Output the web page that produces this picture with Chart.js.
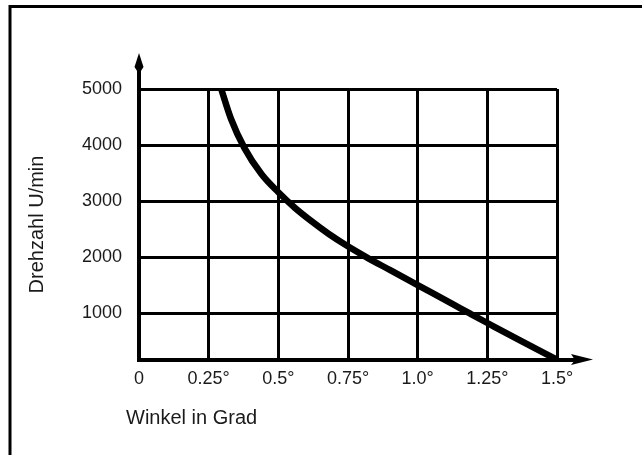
<!DOCTYPE html>
<html>
<head>
<meta charset="utf-8">
<script src="https://cdn.jsdelivr.net/npm/chart.js@4.4.1/dist/chart.umd.min.js"></script>
<style>
  html, body { margin: 0; padding: 0; background: #fff; }
  canvas { display: block; }
</style>
</head>
<body>
<canvas id="c" width="642" height="455"></canvas>
<script>
// Drehzahl über Winkel
const winkel   = [0.295, 0.33, 0.378, 0.44, 0.5, 0.56, 0.62, 0.68, 0.745, 0.817, 0.9, 1.0, 1.126, 1.187, 1.252, 1.374, 1.5];
const drehzahl = [5000, 4470, 3950, 3480, 3160, 2880, 2640, 2420, 2210, 2000, 1775, 1505, 1165, 1000, 825, 500, 175];

const xTickValues = [0, 0.25, 0.5, 0.75, 1.0, 1.25, 1.5];
const xTickLabels = ['0', '0.25°', '0.5°', '0.75°', '1.0°', '1.25°', '1.5°'];
const yTickValues = [1000, 2000, 3000, 4000, 5000];
const yTickLabels = ['1000', '2000', '3000', '4000', '5000'];

const xTitle = 'Winkel in Grad';
const yTitle = 'Drehzahl U/min';

const xMin = 0, xMax = 1.5;
const yMin = 170, yMax = 5000;

const ink = '#000';
const textInk = '#1a1a1a';
const tickFont = { family: '"Liberation Sans", Arial, sans-serif', size: 18 };
const titleFont = { family: '"Liberation Sans", Arial, sans-serif', size: 20 };

// white page with the frame along the left and top edge
const framePlugin = {
  id: 'frame',
  beforeDraw(chart) {
    const ctx = chart.ctx;
    ctx.save();
    ctx.fillStyle = '#fff';
    ctx.fillRect(0, 0, chart.width, chart.height);
    ctx.strokeStyle = ink;
    ctx.lineWidth = 3;
    ctx.strokeRect(10, 6.5, chart.width + 20, chart.height + 20);
    ctx.restore();
  }
};

// axis arrows and the horizontal axis caption
const axisPlugin = {
  id: 'axisArrows',
  afterDraw(chart) {
    const ctx = chart.ctx;
    const xs = chart.scales.x, ys = chart.scales.y;
    const x0 = xs.getPixelForValue(xMin);
    const xEnd = xs.getPixelForValue(xMax);
    const y0 = ys.getPixelForValue(yMin);
    const yTop = ys.getPixelForValue(yMax);
    ctx.save();
    ctx.fillStyle = ink;
    ctx.strokeStyle = ink;
    ctx.lineWidth = 4;
    // vertical arrow
    ctx.beginPath();
    ctx.moveTo(x0, yTop + 2);
    ctx.lineTo(x0, yTop - 30);
    ctx.stroke();
    ctx.beginPath();
    ctx.moveTo(x0, yTop - 36);
    ctx.lineTo(x0 + 4.5, yTop - 22);
    ctx.lineTo(x0, yTop - 15);
    ctx.lineTo(x0 - 4.5, yTop - 22);
    ctx.closePath();
    ctx.fill();
    // horizontal arrow
    ctx.beginPath();
    ctx.moveTo(xEnd - 2, y0);
    ctx.lineTo(xEnd + 26, y0);
    ctx.stroke();
    ctx.beginPath();
    ctx.moveTo(xEnd + 36, y0 - 0.5);
    ctx.lineTo(xEnd + 14, y0 - 6);
    ctx.lineTo(xEnd + 18, y0);
    ctx.lineTo(xEnd + 14, y0 + 5);
    ctx.closePath();
    ctx.fill();
    // caption under the horizontal axis
    ctx.fillStyle = textInk;
    ctx.font = titleFont.size + 'px ' + titleFont.family;
    ctx.textAlign = 'left';
    ctx.textBaseline = 'alphabetic';
    ctx.fillText(xTitle, 126, 424);
    ctx.restore();
  }
};

new Chart(document.getElementById('c'), {
  type: 'line',
  data: {
    datasets: [{
      data: winkel.map((w, i) => ({ x: w, y: drehzahl[i] })),
      borderColor: ink,
      borderWidth: 6.5,
      pointRadius: 0,
      cubicInterpolationMode: 'monotone',
      borderJoinStyle: 'round',
      fill: false
    }]
  },
  options: {
    responsive: false,
    animation: false,
    devicePixelRatio: 1,
    layout: { padding: { left: 0, top: 89, right: 85, bottom: 0 } },
    plugins: { legend: { display: false }, tooltip: { enabled: false } },
    scales: {
      x: {
        type: 'linear',
        min: xMin,
        max: xMax,
        afterBuildTicks(scale) { scale.ticks = xTickValues.map(v => ({ value: v })); },
        afterFit(scale) { scale.height = 95; },
        ticks: {
          color: textInk,
          font: tickFont,
          padding: 8,
          maxRotation: 0,
          autoSkip: false,
          callback: (v) => xTickLabels[xTickValues.indexOf(v)]
        },
        grid: { color: ink, lineWidth: 3, drawTicks: false },
        border: { color: ink, width: 4 }
      },
      y: {
        type: 'linear',
        min: yMin,
        max: yMax,
        afterBuildTicks(scale) { scale.ticks = yTickValues.map(v => ({ value: v })); },
        afterFit(scale) { scale.width = 139; },
        ticks: {
          color: textInk,
          font: tickFont,
          padding: 17,
          autoSkip: false,
          callback: (v) => yTickLabels[yTickValues.indexOf(v)]
        },
        grid: { color: ink, lineWidth: 3, drawTicks: false },
        border: { color: ink, width: 4 },
        title: {
          display: true,
          text: yTitle,
          color: textInk,
          font: titleFont,
          padding: { top: 25, bottom: 0 }
        }
      }
    }
  },
  plugins: [framePlugin, axisPlugin]
});
</script>
</body>
</html>
